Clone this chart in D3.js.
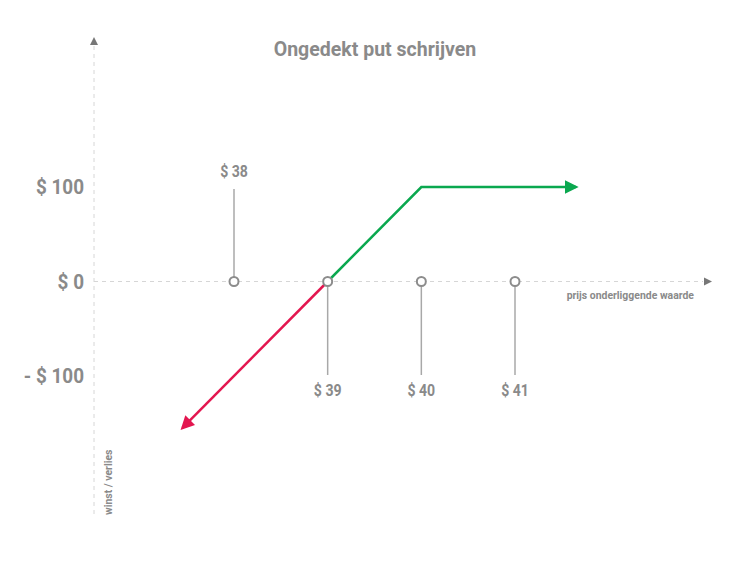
<!DOCTYPE html>
<html>
<head>
<meta charset="utf-8">
<script src="https://cdn.jsdelivr.net/npm/d3@7"></script>
<style>
  html, body { margin: 0; padding: 0; background: #fff; }
  svg { display: block; }
  text { font-family: "Liberation Sans Narrow", "Roboto", sans-serif; font-weight: bold; fill: #8a8a8a; }
</style>
</head>
<body>
<svg id="chart" width="750" height="563"></svg>
<script>
// ---- data ----
const strikes = [38, 39, 40, 41]
const strikeLabels = ['$ 38', '$ 39', '$ 40', '$ 41']
const yTicks = [100, 0, -100]
const yTickLabels = ['$ 100', '$ 0', '- $ 100']
// payoff of the written put (price, profit/loss)
const profitLine = [[39, 0], [40, 100], [41.65, 100]]
const lossLine = [[39, 0], [37.45, -155]]

const svg = d3.select('#chart')
const grey = '#8c8c8c'

const x = d3.scaleLinear().domain([38, 41]).range([234, 515])
const y = d3.scaleLinear().domain([-100, 100]).range([376, 187])

const axisX = 94
const axisTop = 46
const axisBottom = 515
const axisRight = 703

// condensed text helper (no condensed face installed)
function label(parent, tx, ty, str, size, anchor, sx = 0.88, rot = 0) {
  return parent.append('text')
    .attr('transform', `translate(${tx},${ty}) rotate(${rot}) scale(${sx},1)`)
    .attr('text-anchor', anchor)
    .attr('font-size', size)
    .text(str)
}

// ------------------
// Title
// ------------------
label(svg, 375, 56, 'Ongedekt put schrijven', 21, 'middle', 0.93)

// ------------------
// Axes (dashed, with arrow heads)
// ------------------
svg.append('line')
  .attr('x1', axisX).attr('x2', axisX)
  .attr('y1', axisTop).attr('y2', axisBottom)
  .attr('stroke', '#d6d6d6')
  .attr('stroke-dasharray', '4,4')

svg.append('path')
  .attr('d', `M${axisX - 4},${axisTop - 1} L${axisX + 4},${axisTop - 1} L${axisX},${axisTop - 9} Z`)
  .attr('fill', '#777')

svg.append('line')
  .attr('x1', axisX).attr('x2', axisRight)
  .attr('y1', y(0)).attr('y2', y(0))
  .attr('stroke', '#d6d6d6')
  .attr('stroke-dasharray', '4,4')

svg.append('path')
  .attr('d', `M${axisRight + 1},${y(0) - 4} L${axisRight + 1},${y(0) + 4} L${axisRight + 9},${y(0)} Z`)
  .attr('fill', '#777')

// y tick labels
yTicks.forEach((d, i) => {
  label(svg, 84, y(d) + 7, yTickLabels[i], 21, 'end', 0.9)
})

// axis titles
label(svg, 694, 299, 'prijs onderliggende waarde', 11, 'end', 0.95)
label(svg, 112, 515, 'winst / verlies', 11, 'start', 0.95, -90)

// ------------------
// Strike stems + labels
// ------------------
const stems = svg.append('g')
strikes.forEach((s, i) => {
  const up = i === 0
  stems.append('line')
    .attr('x1', x(s)).attr('x2', x(s))
    .attr('y1', y(0))
    .attr('y2', up ? y(100) + 2 : y(-100) - 1)
    .attr('stroke', '#a8a8a8')
    .attr('stroke-width', 1.5)
  label(stems, x(s), up ? y(100) - 10 : y(-100) + 20, strikeLabels[i], 16, 'middle', 0.88)
})

// ------------------
// Payoff lines
// ------------------
const defs = svg.append('defs')
function arrow(id, color) {
  defs.append('marker')
    .attr('id', id)
    .attr('viewBox', '0 0 10 10')
    .attr('refX', 8)
    .attr('refY', 5)
    .attr('markerWidth', 5.5)
    .attr('markerHeight', 5.5)
    .attr('markerUnits', 'strokeWidth')
    .attr('orient', 'auto')
    .append('path')
    .attr('d', 'M0,0 L10,5 L0,10 Z')
    .attr('fill', color)
}
arrow('arrGreen', '#0aa84f')
arrow('arrRed', '#e3164f')

const line = d3.line().x(d => x(d[0])).y(d => y(d[1]))

svg.append('path')
  .datum(profitLine)
  .attr('d', line)
  .attr('fill', 'none')
  .attr('stroke', '#0aa84f')
  .attr('stroke-width', 2.5)
  .attr('marker-end', 'url(#arrGreen)')

svg.append('path')
  .datum(lossLine)
  .attr('d', line)
  .attr('fill', 'none')
  .attr('stroke', '#e3164f')
  .attr('stroke-width', 2.5)
  .attr('marker-end', 'url(#arrRed)')

// ------------------
// Strike circles
// ------------------
svg.selectAll('.dot')
  .data(strikes)
  .enter()
  .append('circle')
  .attr('class', 'dot')
  .attr('cx', d => x(d))
  .attr('cy', y(0))
  .attr('r', 4.5)
  .attr('fill', '#fff')
  .attr('stroke', grey)
  .attr('stroke-width', 2)
</script>
</body>
</html>
